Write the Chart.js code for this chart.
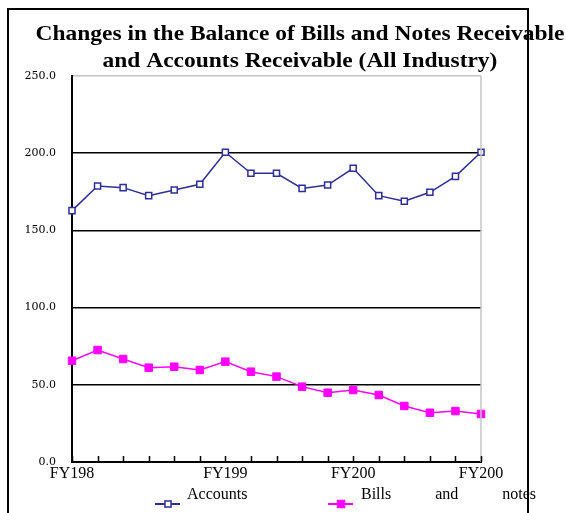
<!DOCTYPE html>
<html>
<head>
<meta charset="utf-8">
<script src="https://cdn.jsdelivr.net/npm/chart.js@4/dist/chart.umd.min.js"></script>
<style>
  html, body { margin: 0; padding: 0; background: #fff; }
  #wrap { width: 566px; height: 513px; }
</style>
</head>
<body>
<div id="wrap"><canvas id="c" width="566" height="513"></canvas></div>
<script>
// Fiscal-year axis: one point per period, labelled at selected years
const categories = ['FY198', '', '', '', '', '', 'FY199', '', '', '', '', 'FY200', '', '', '', '', 'FY200'];

// Balances (trillion yen)
const accounts   = [162.8, 178.8, 177.7, 172.5, 176.2, 179.9, 200.6, 187.0, 187.0, 177.2, 179.4, 190.2, 172.5, 168.9, 174.7, 185.0, 200.6];
const billsNotes = [65.6, 72.5, 66.7, 61.1, 61.7, 59.6, 65.0, 58.5, 55.3, 48.8, 44.9, 46.6, 43.4, 36.3, 31.9, 33.0, 31.1];

const seriesNames = ['Accounts', 'Bills and notes'];
const titleLines = ['Changes in the Balance of Bills and Notes Receivable', 'and Accounts Receivable (All Industry)'];

const yMin = 0, yMax = 250, yStep = 50;

const NAVY = '#2e2e98';
const MAGENTA = '#ff00ff';
const SERIF = '"Liberation Serif", "Times New Roman", serif';

// Outer frame and the two-line heading
const framePlugin = {
  id: 'frameAndTitle',
  beforeDraw(chart) {
    const ctx = chart.ctx;
    ctx.save();
    ctx.fillStyle = '#fff';
    ctx.fillRect(0, 0, chart.width, chart.height);
    ctx.strokeStyle = '#000';
    ctx.lineWidth = 2;
    ctx.strokeRect(8, 9, 520, 530);
    ctx.restore();
  },
  afterDraw(chart) {
    const ctx = chart.ctx;
    ctx.save();
    ctx.fillStyle = '#000';
    ctx.font = 'bold 21px ' + SERIF;
    ctx.textAlign = 'center';
    ctx.textBaseline = 'middle';
    // heading is set in a wide face: stretch horizontally so the first line spans 529px
    const sx = 529 / ctx.measureText(titleLines[0]).width;
    ctx.translate(300, 0);
    ctx.scale(sx, 1);
    ctx.fillText(titleLines[0], 0, 35);
    ctx.fillText(titleLines[1], 0, 62);
    ctx.restore();
  }
};

// Plot frame details: grey right edge and short inward tick marks on the category axis
const axisPlugin = {
  id: 'axisDetails',
  afterDatasetsDraw(chart) {
    const ctx = chart.ctx;
    const a = chart.chartArea;
    const xs = chart.scales.x;
    ctx.save();
    ctx.strokeStyle = '#c4c4c4';
    ctx.lineWidth = 1.5;
    ctx.beginPath();
    ctx.moveTo(a.right, a.top);
    ctx.lineTo(a.right, a.bottom);
    ctx.stroke();
    ctx.strokeStyle = '#000';
    ctx.lineWidth = 1.5;
    ctx.beginPath();
    for (let i = 0; i < categories.length; i++) {
      const x = Math.round(xs.getPixelForValue(i)) + 0.5;
      ctx.moveTo(x, a.bottom);
      ctx.lineTo(x, a.bottom - 6);
    }
    ctx.stroke();
    ctx.restore();
  }
};

// Legend drawn below the axis, with the second label spread across its slot
const legendPlugin = {
  id: 'spreadLegend',
  afterDraw(chart) {
    const ctx = chart.ctx;
    const slots = [
      { lineX: 155, textX: 187, textEnd: null },
      { lineX: 328, textX: 361, textEnd: 536 }
    ];
    const markerY = 504, textY = 495;
    ctx.save();
    chart.data.datasets.forEach((ds, i) => {
      const s = slots[i];
      ctx.strokeStyle = ds.borderColor;
      ctx.lineWidth = 2;
      ctx.beginPath();
      ctx.moveTo(s.lineX, markerY);
      ctx.lineTo(s.lineX + 25, markerY);
      ctx.stroke();
      const cx = s.lineX + 13;
      const half = ds.pointRadius * Math.SQRT1_2;
      ctx.fillStyle = ds.pointBackgroundColor;
      ctx.fillRect(cx - half, markerY - half, half * 2, half * 2);
      ctx.lineWidth = ds.pointBorderWidth;
      ctx.strokeStyle = ds.pointBorderColor;
      ctx.strokeRect(cx - half, markerY - half, half * 2, half * 2);

      ctx.fillStyle = '#000';
      ctx.font = '16px ' + SERIF;
      ctx.textBaseline = 'middle';
      ctx.textAlign = 'left';
      const words = ds.label.split(' ');
      if (!s.textEnd || words.length < 2) {
        ctx.fillText(ds.label, s.textX, textY);
      } else {
        const widths = words.map(w => ctx.measureText(w).width);
        const total = widths.reduce((p, q) => p + q, 0);
        const gap = (s.textEnd - s.textX - total) / (words.length - 1);
        let x = s.textX;
        words.forEach((w, k) => { ctx.fillText(w, x, textY); x += widths[k] + gap; });
      }
    });
    ctx.restore();
  }
};

new Chart(document.getElementById('c'), {
  type: 'line',
  data: {
    labels: categories,
    datasets: [
      {
        label: seriesNames[0],
        data: accounts,
        borderColor: NAVY,
        borderWidth: 1.5,
        pointStyle: 'rect',
        pointRadius: 4.3,
        pointBorderWidth: 1.5,
        pointBorderColor: NAVY,
        pointBackgroundColor: '#fff',
        tension: 0
      },
      {
        label: seriesNames[1],
        data: billsNotes,
        borderColor: MAGENTA,
        borderWidth: 1.5,
        pointStyle: 'rect',
        pointRadius: 5.3,
        pointBorderWidth: 1,
        pointBorderColor: MAGENTA,
        pointBackgroundColor: MAGENTA,
        tension: 0
      }
    ]
  },
  options: {
    responsive: false,
    animation: false,
    layout: { padding: { left: 0, top: 76, right: 85, bottom: 0 } },
    plugins: {
      legend: { display: false },
      title: { display: false },
      tooltip: { enabled: false }
    },
    scales: {
      x: {
        type: 'category',
        offset: false,
        afterFit(scale) { scale.height = 51; },
        border: { display: true, color: '#000', width: 2 },
        grid: { display: false, drawTicks: false },
        ticks: {
          autoSkip: false,
          maxRotation: 0,
          padding: 2,
          color: '#000',
          font: { family: SERIF, size: 16 }
        }
      },
      y: {
        min: yMin,
        max: yMax,
        afterFit(scale) { scale.width = 72; },
        border: { display: true, color: '#000', width: 2 },
        grid: {
          drawTicks: false,
          lineWidth: 1.5,
          color: (c) => {
            const v = c.tick ? c.tick.value : null;
            if (v === yMax) return '#c4c4c4';
            if (v === yMin) return 'rgba(0,0,0,0)';
            return '#000';
          }
        },
        ticks: {
          stepSize: yStep,
          padding: 16,
          color: '#000',
          font: { family: '"DejaVu Serif", serif', size: 11 },
          callback: (v) => Number(v).toFixed(1)
        }
      }
    }
  },
  plugins: [framePlugin, axisPlugin, legendPlugin]
});
</script>
</body>
</html>
